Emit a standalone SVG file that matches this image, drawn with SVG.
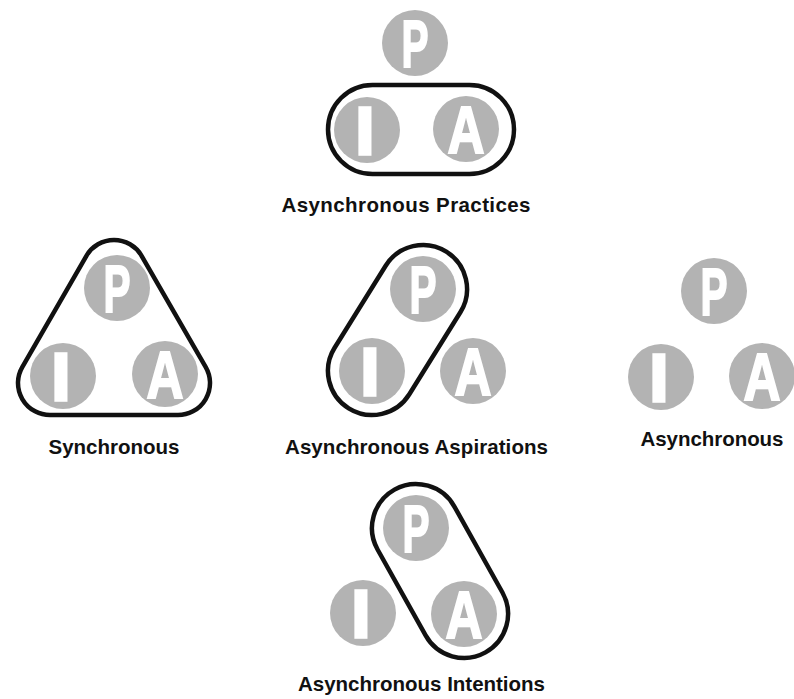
<svg xmlns="http://www.w3.org/2000/svg" width="794" height="699" viewBox="0 0 794 699">
<style>
.bg{fill:#ffffff}
.dot{fill:#b3b3b3}
.ltr{font-family:"Liberation Sans",Arial,sans-serif;font-weight:bold;font-size:66px;fill:#ffffff;stroke:#ffffff;stroke-width:2;text-anchor:middle}
.ltrI{stroke-width:3.5}
.ring{fill:none;stroke:#111111;stroke-width:4.5}
.lbl{font-family:"Liberation Sans",Arial,sans-serif;font-weight:bold;font-size:20.5px;fill:#111111;text-anchor:middle}
</style>
<defs>
<g id="cP"><circle class="dot" r="33"/><text class="ltr" y="23.5" textLength="27" lengthAdjust="spacingAndGlyphs">P</text></g>
<g id="cI"><circle class="dot" r="33"/><text class="ltr ltrI" x="-2" y="23.5">I</text></g>
<g id="cA"><circle class="dot" r="33"/><text class="ltr" y="23.5" textLength="37" lengthAdjust="spacingAndGlyphs">A</text></g>
</defs>
<rect class="bg" x="0" y="0" width="794" height="699"/>

<g id="practices">
  <use id="practices-P" href="#cP" x="415" y="43"/>
  <use id="practices-I" href="#cI" x="367" y="130"/>
  <use id="practices-A" href="#cA" x="466" y="129"/>
  <rect class="ring" x="328" y="85" width="186" height="89" rx="44.5"/>
  <text class="lbl" x="406" y="212" textLength="249">Asynchronous Practices</text>
</g>

<g id="synchronous">
  <use id="sync-P" href="#cP" x="117" y="288"/>
  <use id="sync-I" href="#cI" x="63" y="376"/>
  <use id="sync-A" href="#cA" x="165" y="374"/>
  <path class="ring" d="M22.27,367.01 L86.27,256.01 A32,32 0 0 1 141.73,256.01 L205.73,367.01 A32,32 0 0 1 178,415 L50,415 A32,32 0 0 1 22.27,367.01 Z"/>
  <text class="lbl" x="114" y="454" textLength="131">Synchronous</text>
</g>

<g id="aspirations">
  <use id="asp-P" href="#cP" x="423" y="289"/>
  <use id="asp-I" href="#cI" x="372" y="371"/>
  <use id="asp-A" href="#cA" x="473" y="371"/>
  <rect class="ring" x="-92.3" y="-44" width="184.6" height="88" rx="44" transform="translate(397.5,330) rotate(-58.1)"/>
  <text class="lbl" x="416.5" y="454" textLength="263">Asynchronous Aspirations</text>
</g>

<g id="asynchronous">
  <use id="async-P" href="#cP" x="714" y="291"/>
  <use id="async-I" href="#cI" x="661" y="377"/>
  <use id="async-A" href="#cA" x="762" y="376"/>
  <text class="lbl" x="712" y="446" textLength="143">Asynchronous</text>
</g>

<g id="intentions">
  <use id="int-P" href="#cP" x="416" y="528"/>
  <use id="int-I" href="#cI" x="363" y="613"/>
  <use id="int-A" href="#cA" x="464" y="614"/>
  <rect class="ring" x="-93.25" y="-44" width="186.5" height="88" rx="44" transform="translate(440,571) rotate(60.8)"/>
  <text class="lbl" x="421.5" y="691" textLength="247">Asynchronous Intentions</text>
</g>
</svg>
